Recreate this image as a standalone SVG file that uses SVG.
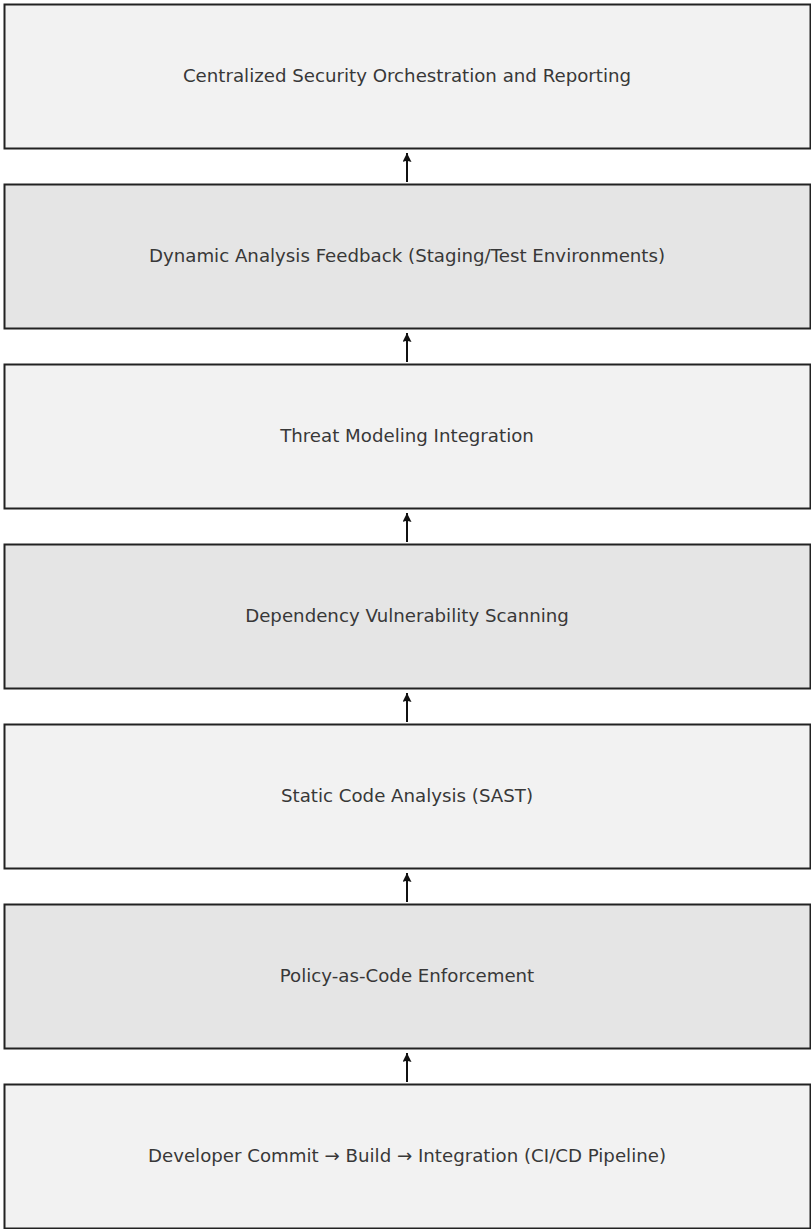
<svg xmlns="http://www.w3.org/2000/svg" width="811" height="1229" viewBox="0 0 811 1229">
<style>
.box{stroke:#222;stroke-width:2}
.a{fill:#f2f2f2}
.b{fill:#e5e5e5}
.t{font-family:"DejaVu Sans",sans-serif;font-size:18.2px;fill:#383838;text-anchor:middle;dominant-baseline:central}
.c{stroke:#111;stroke-width:2;fill:none}
</style>
<defs>
<marker id="ah" viewBox="0 0 10 10" refX="10" refY="5" markerWidth="9" markerHeight="9" orient="auto" markerUnits="userSpaceOnUse">
<path d="M0,0 L10,5 L0,10 L1.5,5 z" fill="#111"/>
</marker>
</defs>
<rect width="811" height="1229" fill="#fff"/>
<g id="n1"><rect class="box a" x="4.5" y="4.5" width="806" height="144"/><text class="t" x="407" y="75.5">Centralized Security Orchestration and Reporting</text></g>
<g id="n2"><rect class="box b" x="4.5" y="184.5" width="806" height="144"/><text class="t" x="407" y="255.5">Dynamic Analysis Feedback (Staging/Test Environments)</text></g>
<g id="n3"><rect class="box a" x="4.5" y="364.5" width="806" height="144"/><text class="t" x="407" y="435.5">Threat Modeling Integration</text></g>
<g id="n4"><rect class="box b" x="4.5" y="544.5" width="806" height="144"/><text class="t" x="407" y="615.5">Dependency Vulnerability Scanning</text></g>
<g id="n5"><rect class="box a" x="4.5" y="724.5" width="806" height="144"/><text class="t" x="407" y="795.5">Static Code Analysis (SAST)</text></g>
<g id="n6"><rect class="box b" x="4.5" y="904.5" width="806" height="144"/><text class="t" x="407" y="975.5">Policy-as-Code Enforcement</text></g>
<g id="n7"><rect class="box a" x="4.5" y="1084.5" width="806" height="144"/><text class="t" x="407" y="1155.5">Developer Commit → Build → Integration (CI/CD Pipeline)</text></g>
<g id="connectors">
<line class="c" x1="407" y1="182" x2="407" y2="153" marker-end="url(#ah)"/>
<line class="c" x1="407" y1="362" x2="407" y2="333" marker-end="url(#ah)"/>
<line class="c" x1="407" y1="542" x2="407" y2="513" marker-end="url(#ah)"/>
<line class="c" x1="407" y1="722" x2="407" y2="693" marker-end="url(#ah)"/>
<line class="c" x1="407" y1="902" x2="407" y2="873" marker-end="url(#ah)"/>
<line class="c" x1="407" y1="1082" x2="407" y2="1053" marker-end="url(#ah)"/>
</g>
</svg>
